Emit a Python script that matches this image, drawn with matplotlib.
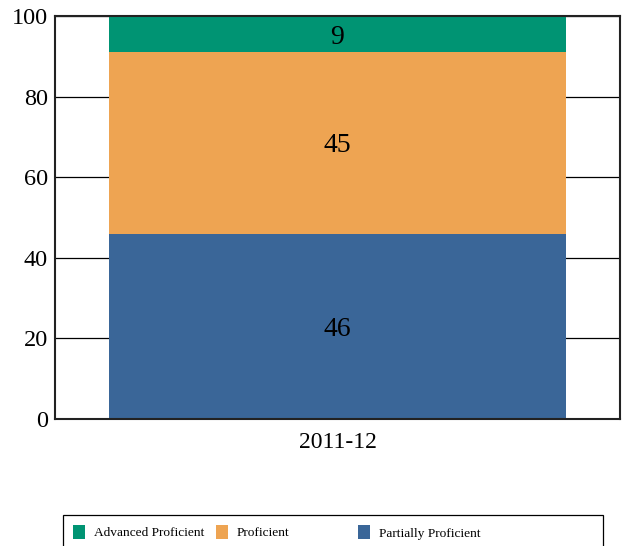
import matplotlib.pyplot as plt
from matplotlib.patches import Rectangle

plt.rcParams['font.family'] = ['Liberation Serif', 'DejaVu Serif']

years = ["2011-12"]
series = ["Partially Proficient", "Proficient", "Advanced Proficient"]
values = {"Partially Proficient": [46], "Proficient": [45], "Advanced Proficient": [9]}
colors = {"Partially Proficient": "#3a6698", "Proficient": "#eea452", "Advanced Proficient": "#009473"}
legend_order = ["Advanced Proficient", "Proficient", "Partially Proficient"]

W, H = 624, 546
fig = plt.figure(figsize=(W / 100, H / 100), dpi=100)
ax = fig.add_axes([55 / W, 1 - 419 / H, 565 / W, 403 / H])

bottom = [0] * len(years)
for s in series:
    v = values[s]
    bars = ax.bar(range(len(years)), v, width=0.81, bottom=bottom, color=colors[s], zorder=2)
    for b, val in zip(bars, v):
        ax.text(b.get_x() + b.get_width() / 2, b.get_y() + b.get_height() / 2, str(val),
                ha='center', va='center_baseline', fontsize=20, color='black', zorder=3)
    bottom = [a + b for a, b in zip(bottom, v)]

ax.set_xlim(-0.5, 0.5)
ax.set_ylim(0, 100)
ax.set_yticks([0, 20, 40, 60, 80, 100])
ax.set_xticks(range(len(years)))
ax.set_xticklabels(years)
ax.tick_params(axis='y', length=0, labelsize=17.5, pad=5)
ax.tick_params(axis='x', length=0, labelsize=17, pad=9)
ax.yaxis.grid(True, color='black', linewidth=0.9, zorder=1)
ax.set_axisbelow(True)
for sp in ax.spines.values():
    sp.set_linewidth(1.5)
    sp.set_color('#222222')

# legend box, fixed column grid like the original
fig.patches.append(Rectangle((63 / W, -0.02), 540 / W, (1 - 515 / H) + 0.02,
                             transform=fig.transFigure, fill=False,
                             edgecolor='black', linewidth=0.9))
col_w = 142.5
for i, s in enumerate(legend_order):
    x0 = 73 + i * col_w
    fig.patches.append(Rectangle((x0 / W, 1 - 539 / H), 12 / W, 14 / H,
                                 transform=fig.transFigure, facecolor=colors[s],
                                 edgecolor='none'))
    fig.text((x0 + 21) / W, 1 - 532 / H, s, fontsize=9.6, ha='left', va='center_baseline')

fig.savefig("out.png", dpi=100)
